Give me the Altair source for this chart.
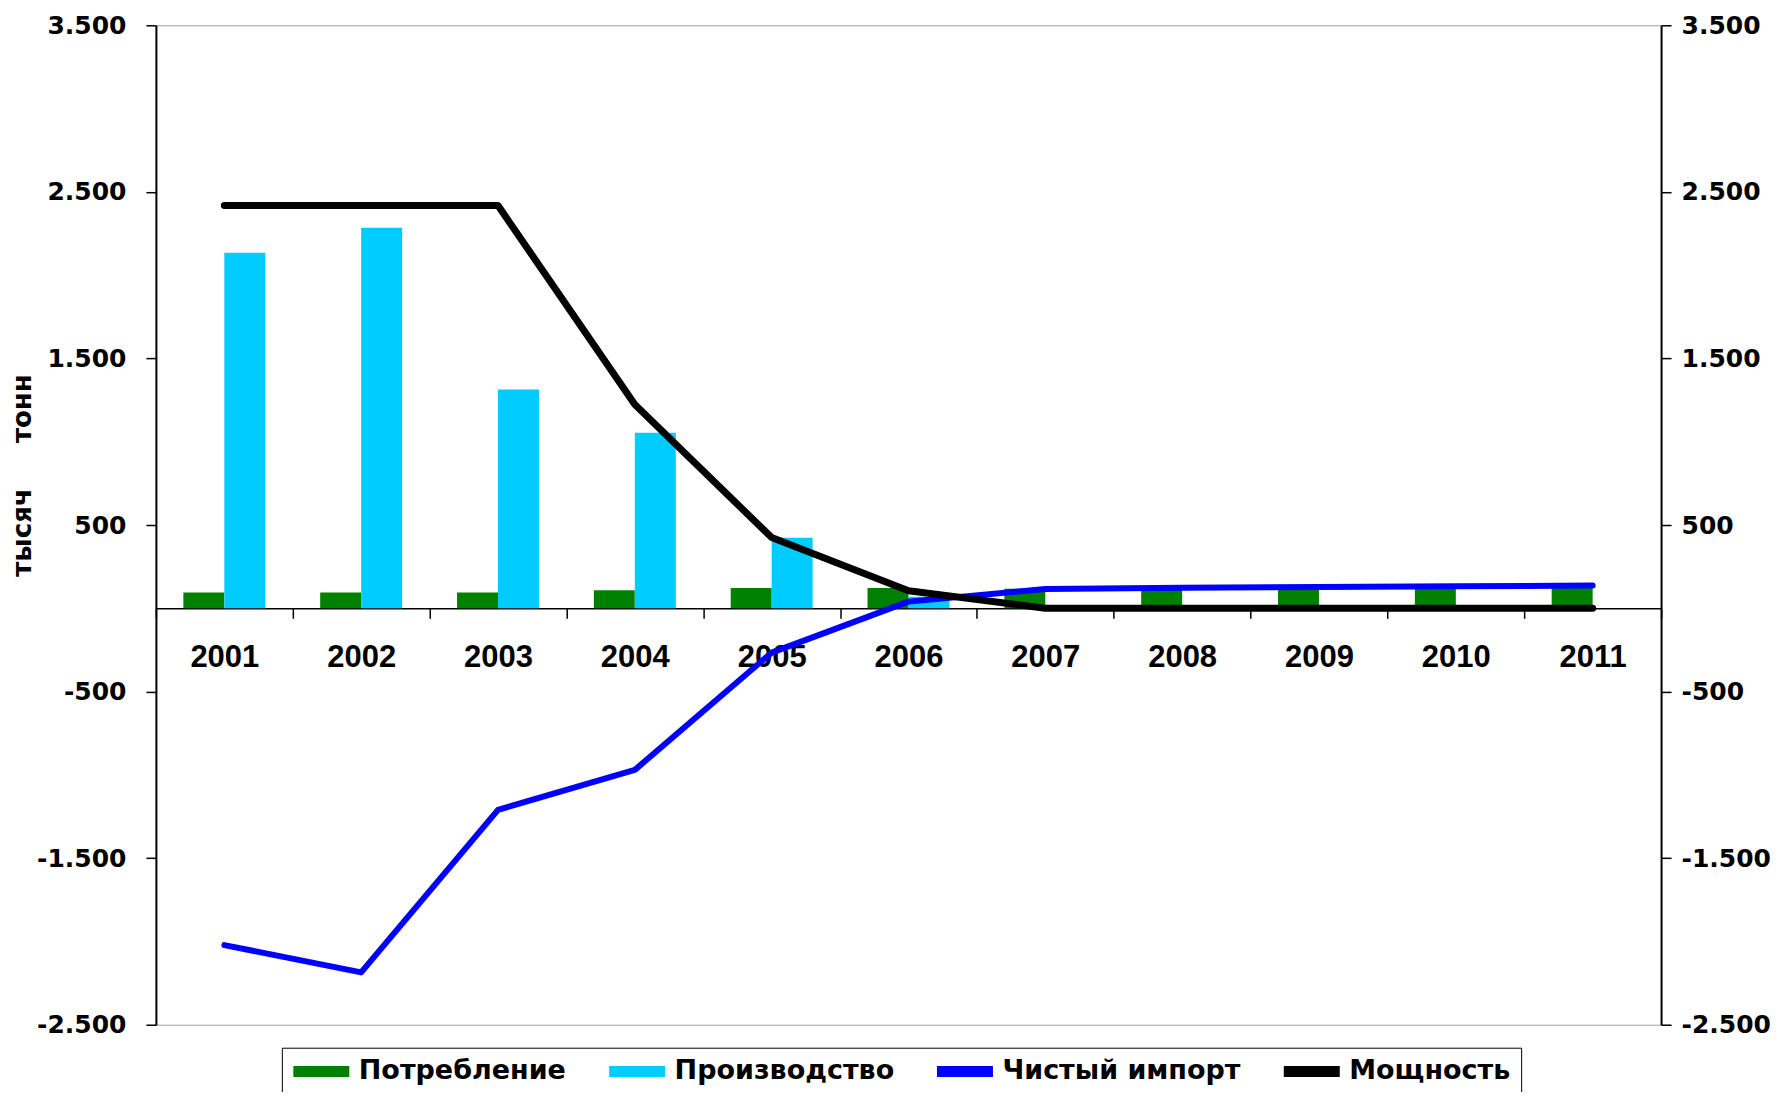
import altair as alt
import pandas as pd

# ---- data ----
years = ["2001", "2002", "2003", "2004", "2005", "2006", "2007", "2008", "2009", "2010", "2011"]
consumption = [95, 95, 95, 108, 122, 122, 118, 120, 122, 124, 126]          # Потребление
production = [2134, 2284, 1314, 1054, 424, 70, 0, 0, 0, 0, 0]              # Производство
net_import = [-2022, -2186, -1210, -970, -266, 40, 116, 123, 128, 132, 137]  # Чистый импорт
capacity = [2418, 2418, 2418, 1223, 425, 105, 0, 0, 0, 0, 0]                # Мощность

S_CONS, S_PROD, S_NET, S_CAP = "Потребление", "Производство", "Чистый импорт", "Мощность"
series_names = [S_CONS, S_PROD, S_NET, S_CAP]
series_colors = ["#008000", "#00CCFF", "#0000FF", "#000000"]

y_ticks = [3500, 2500, 1500, 500, -500, -1500, -2500]
y_min, y_max = -2500, 3500
y_title = "тысяч\u00a0\u00a0\u00a0\u00a0\u00a0тонн"

bars_df = pd.DataFrame({
    "year": years * 2,
    "series": [S_CONS] * len(years) + [S_PROD] * len(years),
    "value": consumption + production,
})
net_df = pd.DataFrame({"year": years, "series": S_NET, "value": net_import})
cap_df = pd.DataFrame({"year": years, "series": S_CAP, "value": capacity})

# ---- layout ----
W, H = 1506, 1000
x_axis_offset = -(H * (0 - y_min) / (y_max - y_min))

label_expr = "(datum.value < 0 ? '-' : '') + replace(format(abs(datum.value), ','), ',', '.')"
AX_FONT = "DejaVu Sans"

color_scale = alt.Scale(domain=series_names, range=series_colors)
y_scale = alt.Scale(domain=[y_min, y_max], nice=False, zero=False)
x_scale = alt.Scale(domain=years, paddingInner=0, paddingOuter=0)

SYMBOL_PATH = "M-2.8,-0.55H2.8V0.55H-2.8Z"

legend = alt.Legend(
    orient="none",
    legendX=126,
    legendY=1023,
    direction="horizontal",
    columns=4,
    title=None,
    labelFont=AX_FONT,
    labelFontWeight="bold",
    labelFontSize=27,
    labelColor="black",
    labelLimit=500,
    strokeColor="black",
    fillColor="white",
    padding=10,
    columnPadding=41,
    symbolType=SYMBOL_PATH,
    symbolSize=400,
    symbolStrokeWidth=0,
    symbolOffset=16,
    labelOffset=24,
    symbolOpacity=1,
)

x_axis = alt.Axis(
    orient="bottom",
    offset=x_axis_offset,
    tickBand="extent",
    labelAngle=0,
    labelFont="Liberation Sans",
    labelFontWeight="bold",
    labelFontSize=31,
    labelColor="black",
    labelPadding=24,
    tickSize=10,
    tickWidth=1.5,
    tickColor="black",
    domainColor="black",
    domainWidth=1.5,
    grid=False,
    title=None,
)

left_axis = alt.Axis(
    orient="left",
    values=y_ticks,
    labelExpr=label_expr,
    labelFont=AX_FONT,
    labelFontWeight="bold",
    labelFontSize=25,
    labelColor="black",
    labelPadding=20,
    tickSize=10,
    tickWidth=1.5,
    tickColor="black",
    domainColor="black",
    domainWidth=2,
    grid=False,
    title=y_title,
    titleFont=AX_FONT,
    titleFontWeight="bold",
    titleFontSize=26,
    titleColor="black",
    titleAngle=270,
    titleAlign="center",
    titleBaseline="middle",
    titleX=-133,
    titleY=450,
)

right_axis = alt.Axis(
    orient="right",
    values=y_ticks,
    labelExpr=label_expr,
    labelFont=AX_FONT,
    labelFontWeight="bold",
    labelFontSize=25,
    labelColor="black",
    labelPadding=10,
    tickSize=10,
    tickWidth=1.5,
    tickColor="black",
    domainColor="black",
    domainWidth=2,
    grid=False,
    title=None,
)

x_enc = alt.X("year:N", scale=x_scale, axis=x_axis, sort=years)
color_enc = alt.Color("series:N", scale=color_scale, legend=legend)

bars = alt.Chart(bars_df).mark_bar().encode(
    x=x_enc,
    xOffset=alt.XOffset("series:N", scale=alt.Scale(domain=[S_CONS, S_PROD], paddingInner=0, paddingOuter=0.67)),
    y=alt.Y("value:Q", scale=y_scale, axis=left_axis),
    color=color_enc,
)

net_line = alt.Chart(net_df).mark_line(strokeWidth=6, strokeCap="round", strokeJoin="round").encode(
    x=x_enc,
    y=alt.Y("value:Q", scale=y_scale, axis=right_axis),
    color=color_enc,
)

cap_line = alt.Chart(cap_df).mark_line(strokeWidth=7, strokeCap="round", strokeJoin="round").encode(
    x=x_enc,
    y=alt.Y("value:Q", scale=y_scale, axis=None),
    color=color_enc,
)

chart = (
    alt.layer(bars, net_line, cap_line)
    .resolve_scale(y="shared")
    .resolve_axis(y="independent")
    .properties(
        width=W,
        height=H,
        padding={"left": 148, "top": 17, "right": 116, "bottom": 67},
        autosize=alt.AutoSizeParams(type="none"),
        background="white",
    )
    .configure_view(stroke="#A0A0A0", strokeWidth=1)
)

chart.save("out.html", embed_options={"renderer": "svg", "actions": False})
